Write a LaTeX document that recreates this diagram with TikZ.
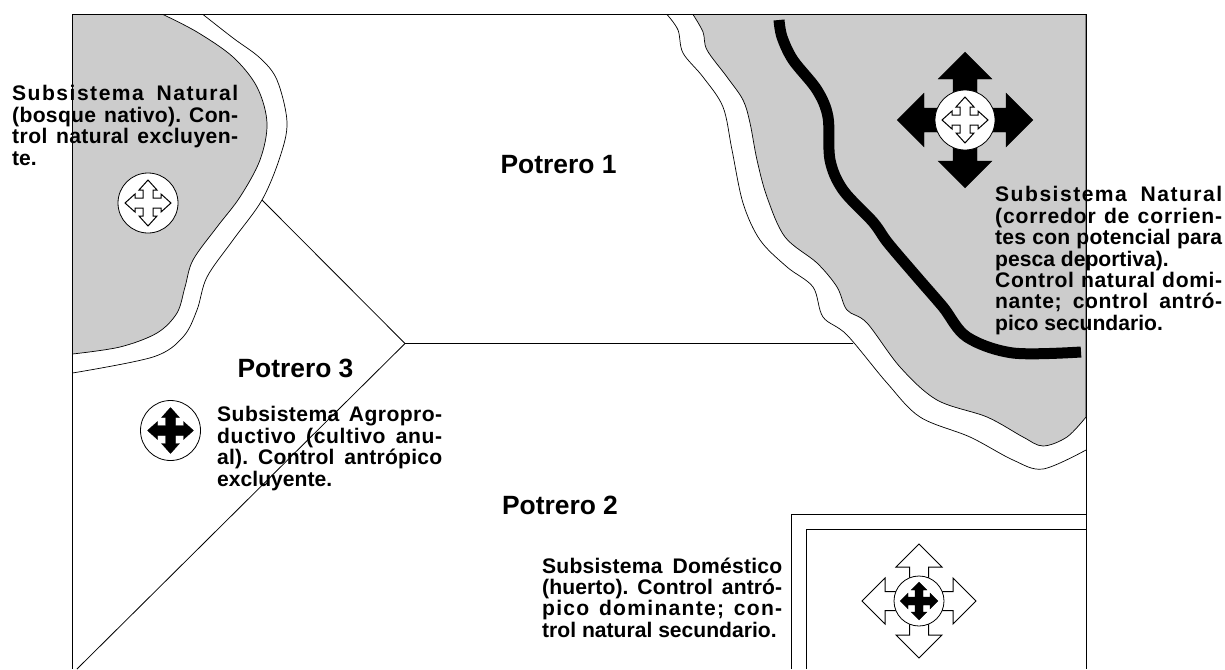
\documentclass[tikz,border=0pt]{standalone}
\usepackage{fontspec}
\setmainfont{Liberation Sans}[BoldFont={Liberation Sans Bold}]
\tikzset{
  edgeline/.style={line width=0.8pt,black},
  curveline/.style={line width=0.7pt,black},
  grayarea/.style={fill=areagray,draw=black,line width=0.7pt},
  river/.style={line width=11pt,black},
  hollow/.style={fill=white,draw=black,line width=1pt,line join=miter},
  solid black/.style={fill=black,draw=black,line width=0.3pt},
  disc/.style={circle,draw=black,fill=white,line width=0.8pt,inner sep=0pt,minimum size=#1},
  potrero/.style={font=\fontsize{26.4}{28}\selectfont\bfseries,inner sep=0pt,anchor=center},
  note/.style={font=\fontsize{21.1}{21.35}\selectfont\bfseries\frenchspacing,inner sep=0pt,anchor=north west,align=left}
}
\definecolor{areagray}{HTML}{CCCCCC}
% cross of four arrows: centre x,y; tip; head base; head half width; shaft half width; style
\newcommand{\crossarrows}[7]{%
  \draw[#7,shift={(#1,#2)}]
    (0,-#3) -- (#5,-#4) -- (#6,-#4) -- (#6,-#6) -- (#4,-#6) -- (#4,-#5) -- (#3,0)
    -- (#4,#5) -- (#4,#6) -- (#6,#6) -- (#6,#4) -- (#5,#4) -- (0,#3)
    -- (-#5,#4) -- (-#6,#4) -- (-#6,#6) -- (-#4,#6) -- (-#4,#5) -- (-#3,0)
    -- (-#4,-#5) -- (-#4,-#6) -- (-#6,-#6) -- (-#6,-#4) -- (-#5,-#4) -- cycle;}
% justified line: width, letter spacing, text
\newcommand{\just}[3]{\hbox to #1{\addfontfeature{LetterSpace=#2}\spaceskip=0.2em plus 1fil\relax #3}}
\begin{document}
\begin{tikzpicture}[x=1pt,y=-1pt]
\useasboundingbox (0,0) rectangle (1225,669);
% left wood
\path[grayarea] plot[smooth,tension=0.55] coordinates {(163,14.5) (197,32) (233,57) (257,87) (267,123) (260,160) (240,197) (217,227) (193,260) (185,287) (177,313) (157,333) (120,347) (72.5,354)} -- (72.5,14.5) -- cycle;
\draw[curveline] plot[smooth,tension=0.55] coordinates {(203,14.5) (233,38) (260,58) (277,80) (287,122) (280,157) (262,200) (233,240) (207,277) (197,310) (183,337) (153,357) (72.5,373)};
% right corridor
\path[grayarea] plot[smooth,tension=0.55] coordinates {(693,14.5) (703,32) (707,50) (727,77) (743,100) (750,123) (757,160) (767,197) (785,237) (817,263) (837,287) (847,310) (867,323) (900,367) (937,400) (987,417) (1023,437) (1043,446) (1067,437) (1086,417)} -- (1086,14.5) -- cycle;
\draw[curveline] plot[smooth,tension=0.55] coordinates {(667,14.5) (678,30) (683,53) (703,77) (723,107) (732,150) (743,203) (760,240) (787,267) (813,287) (823,317) (847,335) (887,383) (920,417) (970,437) (1013,460) (1043,469) (1086,450)};
\draw[river] plot[smooth,tension=0.55] coordinates {(779,20) (782,37) (793,60) (817,90) (828,117) (830,160) (843,190) (873,222) (888,243) (917,277) (943,307) (967,337) (1013,353) (1081,352)};
% paddock boundaries
\coordinate (hub) at (405,343.5);
\coordinate (woodedge) at (262,200);
\coordinate (corridoredge) at (853,343.5);
\coordinate (bottomedge) at (77,669);
\draw[edgeline] (woodedge) -- (hub) -- (corridoredge);
\draw[edgeline] (hub) -- (bottomedge);
% garden
\draw[edgeline] (791,669) -- (791,514) -- (1086,514);
\draw[edgeline] (806,669) -- (806,529) -- (1086,529);
% symbols
\crossarrows{965}{120}{68}{41}{27}{12}{solid black}
\node[disc=60pt] (naturalB) at (965,120) {};
\crossarrows{965}{120}{23}{13}{9}{5}{hollow}
\node[disc=60pt] (naturalA) at (148,203) {};
\crossarrows{148}{203}{23}{13}{9}{5}{hollow}
\node[disc=60pt] (agro) at (170.5,430.5) {};
\crossarrows{170.5}{430.5}{23}{13}{9}{5}{solid black}
\crossarrows{919}{601}{57}{34}{23}{9.5}{hollow}
\node[disc=50pt] (domestic) at (919,601) {};
\crossarrows{919}{601}{19}{11}{8}{4}{solid black}
% paddock names
\node[potrero] (p1) at (558.5,165) {Potrero 1};
\node[potrero] (p3) at (295.5,368) {Potrero 3};
\node[potrero] (p2) at (560,505) {Potrero 2};
% notes
\node[note] (n1) at (12,85.5) {\just{226pt}{7}{Subsistema Natural}\\ \just{226pt}{1.5}{(bosque nativo). Con-}\\ \just{226pt}{2}{trol natural excluyen-}\\ te.};
\node[note] (n2) at (995,186.5) {\just{227pt}{7}{Subsistema Natural}\\ \just{227pt}{4}{(corredor de corrien-}\\ \just{227pt}{1}{tes con potencial para}\\ pesca deportiva).\\ \just{227pt}{3}{Control natural domi-}\\ \just{227pt}{3}{nante; control antró-}\\ pico secundario.};
\node[note] (n3) at (217,406.5) {\just{225pt}{2}{Subsistema Agropro-}\\ \just{225pt}{3}{ductivo (cultivo anu-}\\ \just{225pt}{1}{al). Control antrópico}\\ excluyente.};
\node[note] (n4) at (542,557.5) {\just{240pt}{1}{Subsistema Doméstico}\\ \just{240pt}{0.5}{(huerto). Control antró-}\\ \just{240pt}{6}{pico dominante; con-}\\ trol natural secundario.};
% frame
\draw[edgeline] (72.5,669) -- (72.5,14.5) -- (1086,14.5) -- (1086,669);
\end{tikzpicture}
\end{document}
